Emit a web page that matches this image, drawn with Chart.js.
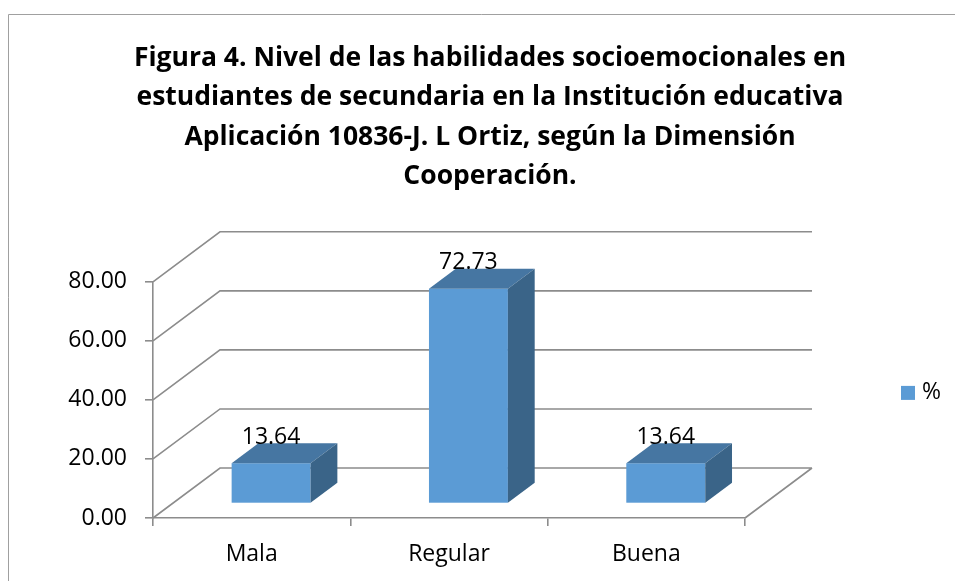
<!DOCTYPE html>
<html>
<head>
<meta charset="utf-8">
<script src="https://cdn.jsdelivr.net/npm/chart.js@4.4.1/dist/chart.umd.min.js"></script>
<style>
    html, body { margin: 0; padding: 0; background: #fff; overflow: hidden; }
</style>
</head>
<body>
<canvas id="chart" width="955" height="581"></canvas>
<script>
// Chart data
const categories = ['Mala', 'Regular', 'Buena'];
const percentValues = [13.64, 72.73, 13.64];
const seriesLabel = '%';
const yTickValues = [0, 20, 40, 60, 80];
const titleLines = [
    'Figura 4. Nivel de las habilidades socioemocionales en',
    'estudiantes de secundaria en la Institución educativa',
    'Aplicación 10836-J. L Ortiz, según la Dimensión',
    'Cooperación.'
];

const FONT = '"Open Sans"';
const BAR_COLOR = '#5B9BD5';
const BAR_TOP = '#4676A2';
const BAR_SIDE = '#3A6488';
const GRID_COLOR = '#8c8c8c';

// 3D depth of the floor/walls and placement of bars inside it
const DEPTH_X = 67;
const DEPTH_Y = -50;
const BAR_FRONT = 0.29;
const BAR_DEPTH = 0.4;

// Draws the back wall, side wall and floor edges, then the boxes
const box3d = {
    id: 'box3d',
    beforeDraw(chart) {
        const ctx = chart.ctx;
        ctx.save();
        ctx.strokeStyle = '#a0a0a0';
        ctx.lineWidth = 1;
        ctx.beginPath();
        ctx.moveTo(8.5, chart.height);
        ctx.lineTo(8.5, 14.5);
        ctx.lineTo(chart.width, 14.5);
        ctx.stroke();
        ctx.restore();
    },
    beforeDatasetsDraw(chart) {
        const { ctx, chartArea: a, scales: { y } } = chart;
        ctx.save();
        ctx.strokeStyle = GRID_COLOR;
        ctx.lineWidth = 1.6;
        ctx.beginPath();
        y.ticks.forEach(t => {
            const py = y.getPixelForValue(t.value);
            ctx.moveTo(a.left, py);
            ctx.lineTo(a.left + DEPTH_X, py + DEPTH_Y);
            ctx.lineTo(a.right + DEPTH_X, py + DEPTH_Y);
        });
        ctx.moveTo(a.right, a.bottom);
        ctx.lineTo(a.right + DEPTH_X, a.bottom + DEPTH_Y);
        ctx.stroke();
        ctx.restore();
    },
    beforeDatasetDraw(chart, args) {
        const ctx = chart.ctx;
        const fx = DEPTH_X * BAR_FRONT, fy = DEPTH_Y * BAR_FRONT;
        const dx = DEPTH_X * BAR_DEPTH, dy = DEPTH_Y * BAR_DEPTH;
        ctx.save();
        args.meta.data.forEach(bar => {
            const x0 = bar.x - bar.width / 2 + fx;
            const x1 = bar.x + bar.width / 2 + fx;
            const yt = bar.y + fy;
            const yb = bar.base + fy;
            // front face
            ctx.fillStyle = BAR_COLOR;
            ctx.fillRect(x0, yt, x1 - x0, yb - yt);
            // top face
            ctx.fillStyle = BAR_TOP;
            ctx.beginPath();
            ctx.moveTo(x0, yt);
            ctx.lineTo(x1, yt);
            ctx.lineTo(x1 + dx, yt + dy);
            ctx.lineTo(x0 + dx, yt + dy);
            ctx.closePath();
            ctx.fill();
            // side face
            ctx.fillStyle = BAR_SIDE;
            ctx.beginPath();
            ctx.moveTo(x1, yt);
            ctx.lineTo(x1 + dx, yt + dy);
            ctx.lineTo(x1 + dx, yb + dy);
            ctx.lineTo(x1, yb);
            ctx.closePath();
            ctx.fill();
        });
        ctx.restore();
        return false;
    },
    afterDatasetsDraw(chart) {
        const ctx = chart.ctx;
        const fx = DEPTH_X * BAR_FRONT, fy = DEPTH_Y * BAR_FRONT;
        const meta = chart.getDatasetMeta(0);
        ctx.save();
        ctx.fillStyle = '#000';
        ctx.font = '23px ' + FONT;
        ctx.textAlign = 'center';
        ctx.textBaseline = 'middle';
        meta.data.forEach((bar, i) => {
            ctx.fillText(percentValues[i].toFixed(2), bar.x + fx, bar.y + fy - 26);
        });
        ctx.restore();
    },
    afterDraw(chart) {
        // legend on the right
        const ctx = chart.ctx;
        const a = chart.chartArea;
        const ds = chart.data.datasets[0];
        const lx = chart.width - 54;
        const ly = (a.top + a.bottom) / 2 - 7;
        ctx.save();
        ctx.fillStyle = ds.backgroundColor;
        ctx.fillRect(lx, ly - 7, 14, 14);
        ctx.fillStyle = '#000';
        ctx.font = '23px ' + FONT;
        ctx.textAlign = 'left';
        ctx.textBaseline = 'middle';
        ctx.fillText(ds.label, lx + 21, ly);
        ctx.restore();
    }
};

new Chart(document.getElementById('chart'), {
    type: 'bar',
    data: {
        labels: categories,
        datasets: [{
            label: seriesLabel,
            data: percentValues,
            backgroundColor: BAR_COLOR,
            categoryPercentage: 1,
            barPercentage: 0.4
        }]
    },
    options: {
        responsive: false,
        animation: false,
        devicePixelRatio: 1,
        layout: { padding: { left: 25, right: 0, top: 0, bottom: 0 } },
        plugins: {
            legend: { display: false },
            tooltip: { enabled: false },
            title: {
                display: true,
                text: titleLines,
                color: '#000',
                font: { family: FONT, size: 26.5, weight: 'bold', lineHeight: 39.2 / 26.5 },
                padding: { top: 39, bottom: 86 }
            }
        },
        scales: {
            x: {
                grid: { drawOnChartArea: false, tickLength: 8, color: GRID_COLOR, lineWidth: 1.6 },
                border: { color: GRID_COLOR, width: 1.6 },
                ticks: { color: '#000', font: { family: FONT, size: 23 }, padding: 15 },
                afterFit: s => { s.height = 63; }
            },
            y: {
                min: 0,
                max: 80,
                afterBuildTicks: s => { s.ticks = yTickValues.map(v => ({ value: v })); },
                grid: { drawOnChartArea: false, tickLength: 8, color: GRID_COLOR, lineWidth: 1.6 },
                border: { color: GRID_COLOR, width: 1.6 },
                ticks: {
                    color: '#000',
                    font: { family: FONT, size: 23 },
                    padding: 18,
                    callback: v => Number(v).toFixed(2)
                },
                afterFit: s => { s.width = 128; }
            },
            // empty space on the right for the depth of the walls and the legend
            spacer: {
                type: 'linear',
                position: 'right',
                display: true,
                grid: { display: false },
                border: { display: false },
                ticks: { display: false },
                afterFit: s => { s.width = 210; }
            }
        }
    },
    plugins: [box3d]
});
</script>
</body>
</html>
